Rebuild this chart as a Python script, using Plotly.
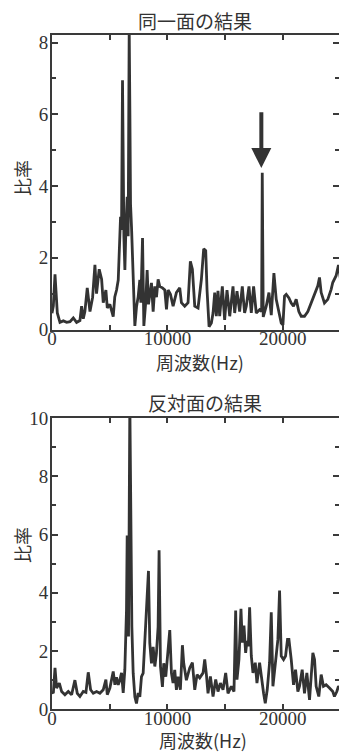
import plotly.graph_objects as go

# ---- data ----
top_freq = [0, 115, 260, 460, 690, 980, 1270, 1560, 1845, 2130, 2420, 2565, 2710, 2850, 3055, 3290, 3520, 3720,
            3860, 4090, 4300, 4440, 4670, 4790, 5015, 5305, 5440, 5595, 5740, 5825, 5940, 6025, 6110, 6230, 6315,
            6400, 6515, 6600, 6690, 6750, 6805, 6890, 6980, 7095, 7180, 7325, 7465, 7610, 7700, 7845, 7960, 8130,
            8245, 8360, 8480, 8620, 8765, 8910, 9055, 9195, 9340, 9570, 9775, 9920, 10060, 10265, 10495, 10780,
            11070, 11215, 11500, 11790, 11990, 12165, 12370, 12655, 12945, 13145, 13320, 13435, 13610, 13810,
            13955, 14100, 14240, 14385, 14530, 14760, 14960, 15165, 15400, 15685, 15830, 16030, 16260, 16490,
            16690, 16835, 17070, 17270, 17470, 17700, 17990, 18165, 18220, 18305, 18565, 18800, 19000, 19230,
            19430, 19665, 19865, 20010, 20150, 20300, 20530, 20730, 20930, 21160, 21390, 21595, 21880, 22170,
            22460, 22750, 23035, 23180, 23325, 23610, 23900, 24190, 24330, 24620, 24825, 25000]
top_ratio = [0.45, 0.65, 1.54, 0.46, 0.2, 0.24, 0.2, 0.22, 0.32, 0.2, 0.25, 0.65, 0.3, 0.5, 1.16, 0.5, 0.9, 1.8,
             1.0, 1.68, 1.4, 0.75, 1.1, 0.6, 0.7, 0.36, 0.91, 1.1, 1.38, 2.03, 3.14, 2.78, 6.95, 2.59, 1.66,
             2.78, 3.7, 2.6, 8.4, 6.0, 3.5, 2.86, 2.0, 0.46, 0.1, 0.64, 0.91, 1.38, 0.75, 2.55, 0.1, 0.8,
             1.66, 0.7, 1.0, 1.3, 0.5, 1.2, 0.9, 1.4, 1.2, 1.16, 1.1, 0.56, 1.1, 0.98, 0.65, 1.03,
             1.16, 0.75, 0.65, 0.75, 1.9, 1.68, 0.65, 0.6, 1.4, 2.25, 2.2, 1.1, 0.08, 0.18,
             0.46, 1.03, 0.37, 1.08, 0.37, 1.2, 0.27, 1.1, 0.37, 1.2, 0.46, 1.07, 0.5, 1.2,
             0.46, 0.65, 1.2, 0.46, 1.2, 0.46, 0.55, 0.5, 4.37, 0.35, 0.65, 1.03, 0.4, 1.57,
             0.84, 0.46, 0.18, 0.13, 0.93, 0.98, 0.88, 0.74, 0.65, 0.84, 0.5, 0.37, 0.37, 0.5,
             0.74, 0.93, 1.22, 1.45, 1.03, 0.74, 0.84, 1.12, 1.31, 1.5, 1.8, 1.4]

bot_freq = [0, 115, 260, 400, 635, 835, 1120, 1410, 1700, 1985, 2190, 2420, 2710, 2940, 3140, 3345, 3575, 3865,
            4150, 4440, 4670, 4790, 5015, 5305, 5450, 5590, 5740, 5880, 6025, 6170, 6310, 6455, 6515, 6630, 6745,
            6830, 6920, 7035, 7180, 7320, 7465, 7610, 7755, 7900, 8040, 8185, 8360, 8475, 8620, 8765, 8910, 9050,
            9195, 9280, 9400, 9570, 9685, 9860, 10060, 10205, 10350, 10490, 10635, 10780, 10925, 11125, 11300,
            11415, 11645, 11935, 12165, 12370, 12570, 12800, 13090, 13235, 13380, 13520, 13725, 13955, 14185,
            14385, 14590, 14820, 15050, 15250, 15540, 15770, 15915, 16030, 16200, 16375, 16490, 16635, 16780,
            16895, 17010, 17125, 17270, 17415, 17615, 17760, 17990, 18165, 18335, 18480, 18650, 18855, 19000,
            19145, 19375, 19575, 19720, 19865, 20065, 20240, 20410, 20530, 20730, 20930, 21105, 21305, 21450,
            21680, 21880, 22085, 22315, 22605, 22750, 22890, 23120, 23325, 23525, 23755, 24045, 24330, 24475,
            24680, 24825, 25000]
bot_ratio = [0.6, 0.55, 1.42, 0.73, 0.9, 0.61, 0.5, 0.61, 0.5, 1.0, 0.55, 0.44, 0.61, 0.58, 1.27, 0.67, 0.55, 0.61,
             0.55, 0.67, 1.02, 0.5, 0.73, 1.3, 0.84, 1.1, 0.84, 1.0, 1.25, 0.56, 1.35, 3.4, 5.97, 2.5, 10.5,
             6.8, 2.83, 1.24, 0.43, 0.2, 0.56, 0.43, 1.12, 1.24, 2.27, 3.3, 4.75, 2.27, 1.58, 2.14, 1.47, 1.92,
             2.83, 5.46, 1.47, 0.77, 1.58, 1.12, 2.03, 2.72, 1.24, 0.9, 1.35, 0.67, 1.12, 0.67, 2.2,
             1.58, 1.0, 1.42, 1.6, 0.67, 1.19, 1.08, 1.25, 1.71, 1.19, 0.55, 1.13, 0.44, 1.02,
             0.61, 0.9, 0.67, 1.25, 0.55, 0.79, 0.61, 3.39, 1.02, 1.71, 3.45, 2.29, 2.87, 1.94,
             2.35, 2.17, 3.5, 1.83, 1.25, 1.6, 0.9, 1.6, 1.02, 0.55, 0.21, 0.67, 1.6, 3.33,
             0.79, 1.6, 2.4, 4.08, 1.83, 1.71, 1.83, 2.4, 2.4, 1.71, 0.84, 1.36, 0.61, 0.79,
             1.36, 0.55, 1.25, 0.32, 1.94, 1.71, 0.79, 0.44, 1.19, 0.79, 0.84, 0.73, 0.61, 0.44,
             0.61, 0.79, 0.7]

x_tickvals = [0, 5000, 10000, 15000, 20000, 25000]
x_ticktext = ["0", "", "10000", "", "20000", ""]
top_titles = ["同一面の結果", "反対面の結果"]
x_title = "周波数(Hz)"
y_title = "比率"

W, H = 339, 756
LINE = "#333333"
AX = "#3a3a3a"
TICKFONT = dict(family="'Liberation Serif', Tinos, 'DejaVu Serif', serif", size=19, color="#333")
CJK = "Noto Sans CJK JP"


def py(p):
    return 1 - p / H


def px(p):
    return p / W


fig = go.Figure()
fig.add_trace(go.Scatter(x=top_freq, y=top_ratio, mode="lines", line=dict(color=LINE, width=2.8),
                         xaxis="x", yaxis="y", showlegend=False))
fig.add_trace(go.Scatter(x=bot_freq, y=bot_ratio, mode="lines", line=dict(color=LINE, width=2.8),
                         xaxis="x2", yaxis="y2", showlegend=False))

xdom = [52 / W, 1.0]
xcommon = dict(range=[0, 24870], tickvals=x_tickvals, ticktext=x_ticktext, ticks="inside", ticklen=5,
               tickwidth=1.5, tickcolor=AX, showline=True, linecolor=AX, linewidth=2, mirror="ticks",
               showgrid=False, zeroline=False, tickfont=TICKFONT, domain=xdom, ticklabelstandoff=-9,
               automargin=False)
ycommon = dict(ticks="inside", ticklen=6, tickwidth=1.5, tickcolor=AX, showline=True, linecolor=AX,
               linewidth=2, mirror="ticks", showgrid=False, zeroline=False, tickfont=TICKFONT,
               minor=dict(ticks="inside", ticklen=4, tickwidth=1.5, tickcolor=AX, dtick=1), ticklabelstandoff=-2,
               automargin=False)

fig.update_layout(
    template="none",
    width=W, height=H, margin=dict(l=0, r=0, t=0, b=0, autoexpand=False),
    paper_bgcolor="white", plot_bgcolor="white",
    xaxis=dict(**xcommon, anchor="y"),
    yaxis=dict(**ycommon, range=[0, 8.21], tickvals=[0, 2, 4, 6, 8], domain=[py(329.5), py(35)], anchor="x"),
    xaxis2=dict(**xcommon, anchor="y2"),
    yaxis2=dict(**ycommon, range=[0, 10], tickvals=[0, 2, 4, 6, 8, 10], domain=[py(709.3), py(418)], anchor="x2"),
)

txt = dict(xref="paper", yref="paper", showarrow=False, xanchor="center", yanchor="middle")
ann = []
ann.append(dict(text=top_titles[0], x=px(195), y=py(20), font=dict(family=CJK, size=19, color="#333"), **txt))
ann.append(dict(text=top_titles[1], x=px(205), y=py(402), font=dict(family=CJK, size=19, color="#333"), **txt))
ann.append(dict(text=x_title, x=px(200), y=py(362), font=dict(family=CJK, size=18, color="#333"), **txt))
ann.append(dict(text=x_title, x=px(203), y=py(740), font=dict(family=CJK, size=18, color="#333"), **txt))
ann.append(dict(text=y_title, x=px(22), y=py(178), textangle=-90, font=dict(family=CJK, size=18, color="#333"), **txt))
ann.append(dict(text=y_title, x=px(22), y=py(545), textangle=-90, font=dict(family=CJK, size=18, color="#333"), **txt))
# arrow pointing to the peak near 18 kHz
ann.append(dict(text="", x=18140, y=4.5, xref="x", yref="y", ax=18140, ay=6.1, axref="x", ayref="y",
                showarrow=True, arrowhead=2, arrowsize=1, arrowwidth=4, arrowcolor="#333", standoff=0))
fig.update_layout(annotations=ann)

fig.write_html("out.html", config={"displayModeBar": False},
               post_script="document.body.style.margin='0';")
